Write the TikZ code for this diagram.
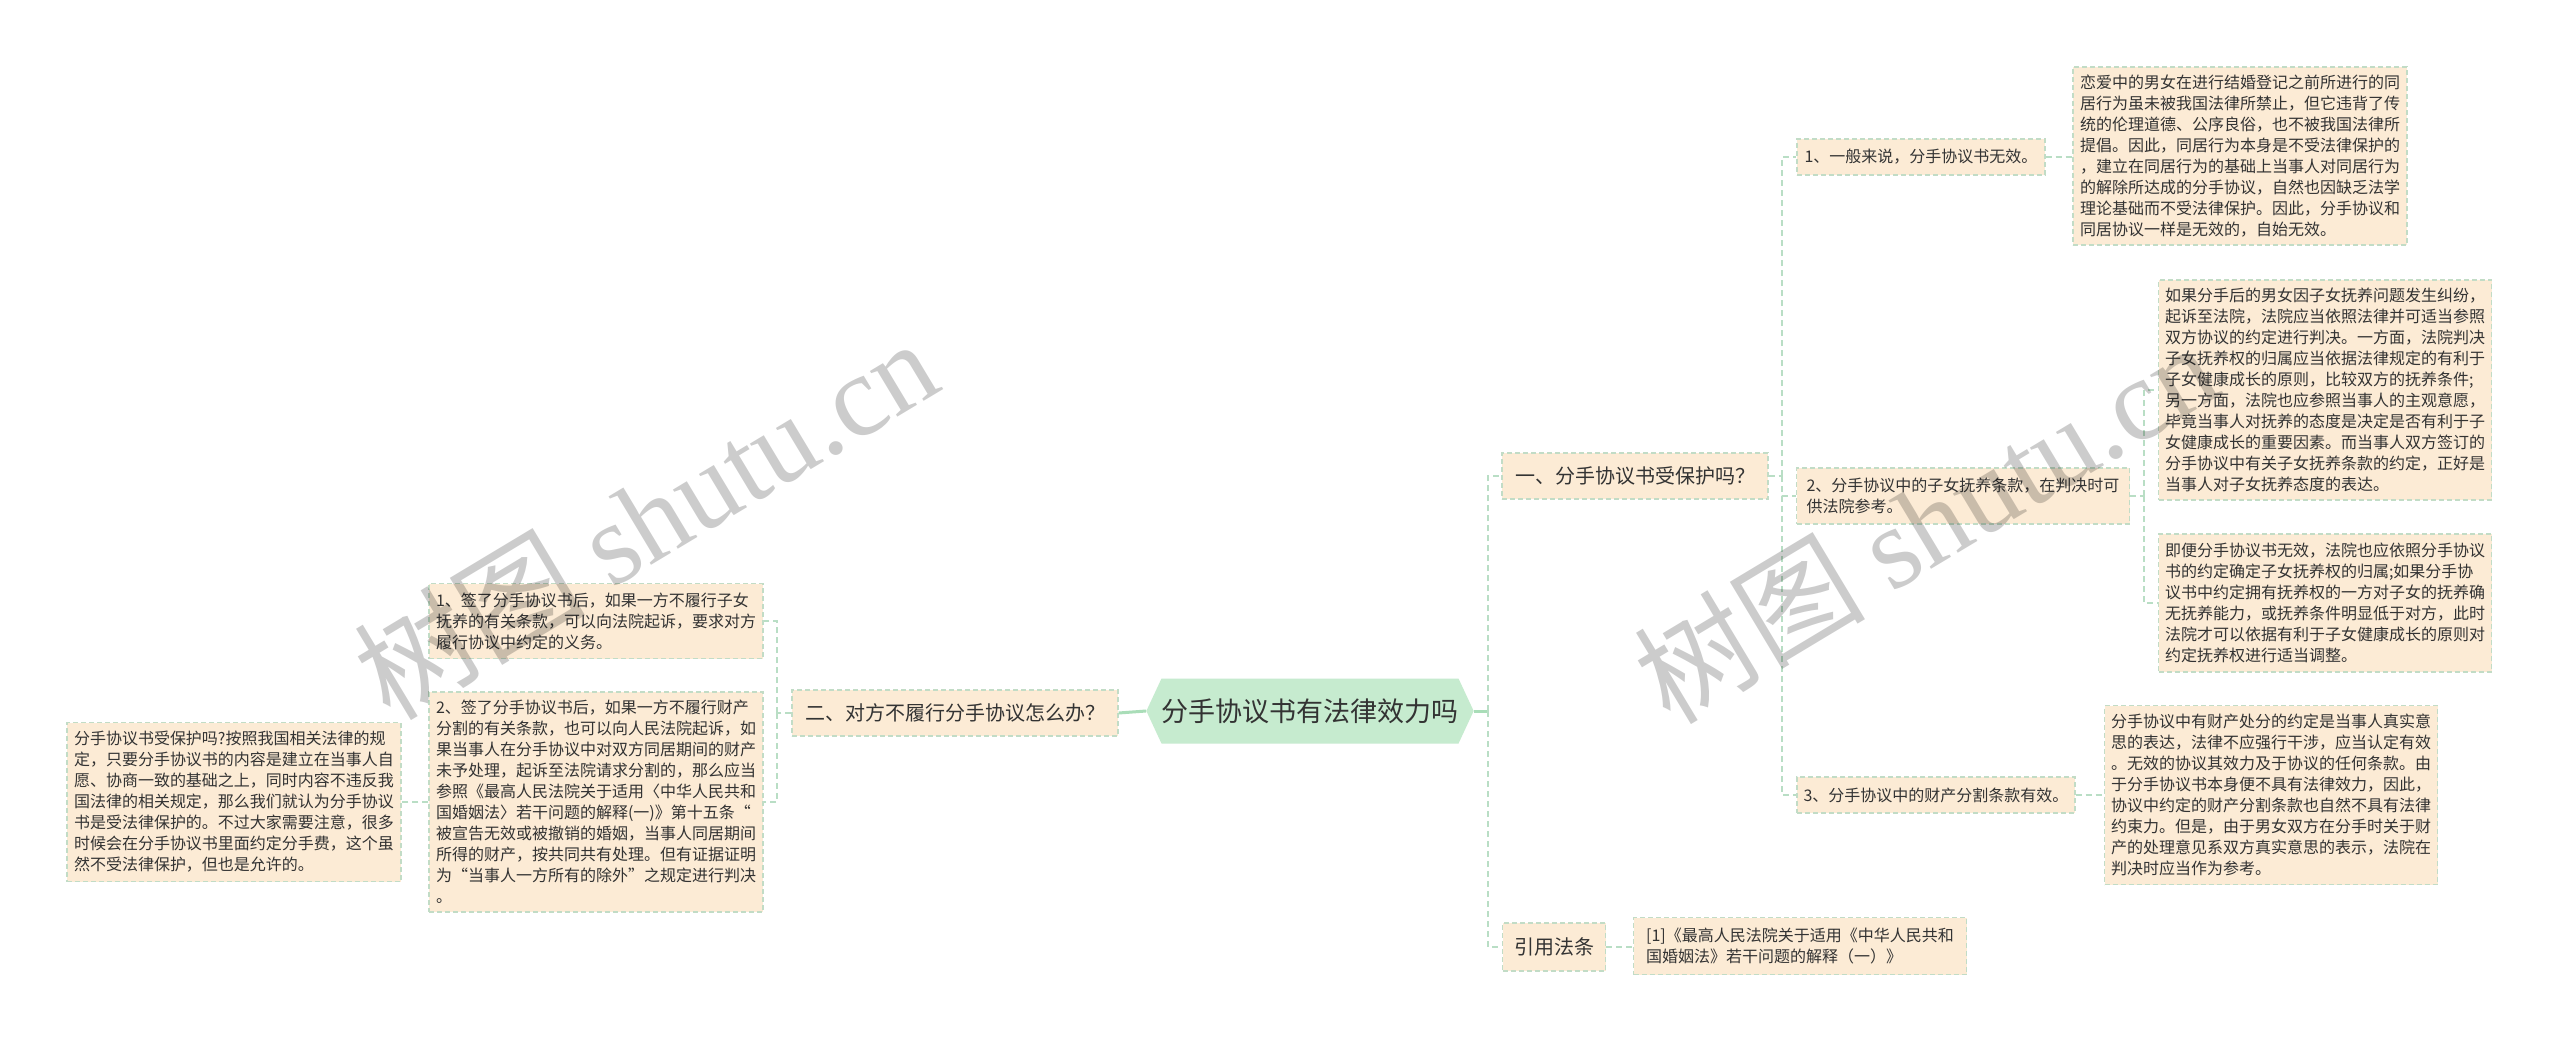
\documentclass[tikz,border=0pt]{standalone}
\usepackage{fontspec}
\setmainfont{Noto Sans CJK SC}
\newfontfamily\wmlatin{Liberation Serif}
\usetikzlibrary{shapes.symbols}
\definecolor{boxfill}{HTML}{FCEBD5}
\definecolor{boxline}{HTML}{C2DCC6}
\definecolor{connc}{HTML}{B9DEC5}
\definecolor{hexfill}{HTML}{C6EBCF}
\definecolor{hexline}{HTML}{A9DDB8}
\definecolor{txt}{HTML}{333333}
\begin{document}
\begin{tikzpicture}[x=1pt,y=-1pt,
  box/.style={draw=boxline, fill=boxfill, dash pattern=on 5pt off 3pt, line width=1.2pt,
    align=left, text=txt, inner sep=0pt, font=\fontsize{16}{21}\selectfont},
  topic/.style={box, font=\fontsize{20}{24}\selectfont},
  hexnode/.style={signal, signal to=west and east, signal pointer angle=130, fill=hexfill,
    draw=none, inner sep=0pt, text=txt, font=\fontsize{27}{30}\selectfont},
  conn/.style={draw=connc, line width=1.5pt, dash pattern=on 6pt off 4pt},
  solidconn/.style={draw=hexline, line width=3pt},
  wm/.style={rotate=31, text=black, text opacity=0.2, font=\fontsize{116}{120}\selectfont, inner sep=0pt}
]
\useasboundingbox (0,0) rectangle (2560,1043);
\fill[white] (0,0) rectangle (2560,1043);

% central
\node[hexnode, minimum width=326pt, minimum height=65pt] (c) at (1310,711) {分手协议书有法律效力吗};

% level 1
\node[topic, minimum width=266pt, minimum height=46pt] (t1) at (1635,476) {一、分手协议书受保护吗？};
\node[topic, minimum width=326pt, minimum height=46pt] (t2) at (955,713) {二、对方不履行分手协议怎么办？};
\node[topic, minimum width=103pt, minimum height=48pt] (t3) at (1554,947) {引用法条};

% right level 2
\node[box, minimum width=248pt, minimum height=36pt] (r1) at (1921,157) {1、一般来说，分手协议书无效。};
\node[box, minimum width=333pt, minimum height=56pt] (r2) at (1963,496) {2、分手协议中的子女抚养条款，在判决时可\\供法院参考。};
\node[box, minimum width=278pt, minimum height=36pt] (r3) at (1936,795) {3、分手协议中的财产分割条款有效。};

% right leaves
\node[box, minimum width=334pt, minimum height=178pt] (b1) at (2240,156) {恋爱中的男女在进行结婚登记之前所进行的同\\居行为虽未被我国法律所禁止，但它违背了传\\统的伦理道德、公序良俗，也不被我国法律所\\提倡。因此，同居行为本身是不受法律保护的\\，建立在同居行为的基础上当事人对同居行为\\的解除所达成的分手协议，自然也因缺乏法学\\理论基础而不受法律保护。因此，分手协议和\\同居协议一样是无效的，自始无效。};
\node[box, minimum width=333pt, minimum height=220pt] (b2a) at (2325,390) {如果分手后的男女因子女抚养问题发生纠纷，\\起诉至法院，法院应当依照法律并可适当参照\\双方协议的约定进行判决。一方面，法院判决\\子女抚养权的归属应当依据法律规定的有利于\\子女健康成长的原则，比较双方的抚养条件;\\另一方面，法院也应参照当事人的主观意愿，\\毕竟当事人对抚养的态度是决定是否有利于子\\女健康成长的重要因素。而当事人双方签订的\\分手协议中有关子女抚养条款的约定，正好是\\当事人对子女抚养态度的表达。};
\node[box, minimum width=333pt, minimum height=138pt] (b2b) at (2325,603) {即便分手协议书无效，法院也应依照分手协议\\书的约定确定子女抚养权的归属;如果分手协\\议书中约定拥有抚养权的一方对子女的抚养确\\无抚养能力，或抚养条件明显低于对方，此时\\法院才可以依据有利于子女健康成长的原则对\\约定抚养权进行适当调整。};
\node[box, minimum width=333pt, minimum height=179pt] (b3) at (2271,795) {分手协议中有财产处分的约定是当事人真实意\\思的表达，法律不应强行干涉，应当认定有效\\。无效的协议其效力及于协议的任何条款。由\\于分手协议书本身便不具有法律效力，因此，\\协议中约定的财产分割条款也自然不具有法律\\约束力。但是，由于男女双方在分手时关于财\\产的处理意见系双方真实意思的表示，法院在\\判决时应当作为参考。};
\node[box, minimum width=333pt, minimum height=57pt] (lf) at (1800,946) {[1]《最高人民法院关于适用《中华人民共和\\国婚姻法》若干问题的解释（一）》};

% left side
\node[box, minimum width=334pt, minimum height=75pt] (l1) at (596,621) {1、签了分手协议书后，如果一方不履行子女\\抚养的有关条款，可以向法院起诉，要求对方\\履行协议中约定的义务。};
\node[box, minimum width=334pt, minimum height=220pt] (l2) at (596,802) {2、签了分手协议书后，如果一方不履行财产\\分割的有关条款，也可以向人民法院起诉，如\\果当事人在分手协议中对双方同居期间的财产\\未予处理，起诉至法院请求分割的，那么应当\\参照《最高人民法院关于适用〈中华人民共和\\国婚姻法〉若干问题的解释(一)》第十五条“\\被宣告无效或被撤销的婚姻，当事人同居期间\\所得的财产，按共同共有处理。但有证据证明\\为“当事人一方所有的除外”之规定进行判决\\。};
\node[box, minimum width=334pt, minimum height=159pt] (fl) at (234,802) {分手协议书受保护吗?按照我国相关法律的规\\定，只要分手协议书的内容是建立在当事人自\\愿、协商一致的基础之上，同时内容不违反我\\国法律的相关规定，那么我们就认为分手协议\\书是受法律保护的。不过大家需要注意，很多\\时候会在分手协议书里面约定分手费，这个虽\\然不受法律保护，但也是允许的。};

% junction coordinates
\coordinate (jr) at (1488,711);
\coordinate (j1) at (1782,476);
\coordinate (j2) at (2144,496);
\coordinate (jl) at (777,713);

% connectors
\draw[solidconn] (c.west) -- (t2.east);
\draw[solidconn] (c.east) -- (jr);
\draw[conn] (jr) -- (jr |- t1.west) -- (t1.west);
\draw[conn] (jr) -- (jr |- t3.west) -- (t3.west);

\draw[conn] (t1.east) -- (j1);
\draw[conn] (j1) -- (j1 |- r1.west) -- (r1.west);
\draw[conn] (j1) -- (j1 |- r2.west) -- (r2.west);
\draw[conn] (j1) -- (j1 |- r3.west) -- (r3.west);

\draw[conn] (r1.east) -- (b1.west |- r1.east);
\draw[conn] (r2.east) -- (j2);
\draw[conn] (j2) -- (j2 |- b2a.west) -- (b2a.west);
\draw[conn] (j2) -- (j2 |- b2b.west) -- (b2b.west);
\draw[conn] (r3.east) -- (b3.west |- r3.east);
\draw[conn] (t3.east) -- (lf.west |- t3.east);

\draw[conn] (t2.west) -- (jl);
\draw[conn] (jl) -- (jl |- l1.east) -- (l1.east);
\draw[conn] (jl) -- (jl |- l2.east) -- (l2.east);
\draw[conn] (l2.west) -- (fl.east);

% watermarks
\node[wm] (wm1) at (645,518) {树图 {\wmlatin shutu.cn}};
\node[wm] (wm2) at (1925,522) {树图 {\wmlatin shutu.cn}};
\end{tikzpicture}
\end{document}
